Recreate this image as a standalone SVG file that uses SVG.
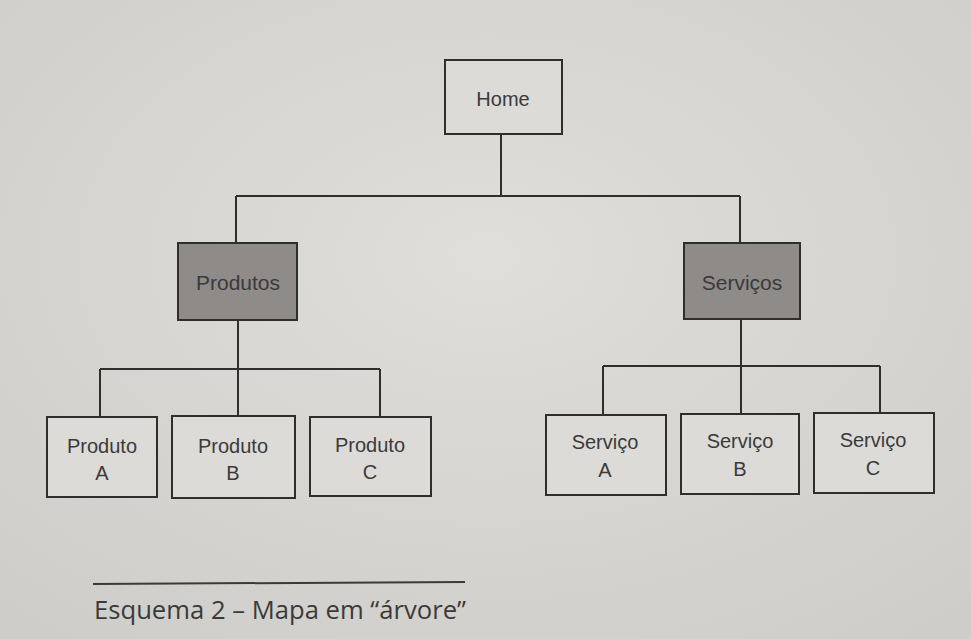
<svg xmlns="http://www.w3.org/2000/svg" width="971" height="639" viewBox="0 0 971 639">
<defs>
<style>
.box{fill:#dddbd8;stroke:#2e2e2e;stroke-width:2}
.dark{fill:#8e8b89;stroke:#2e2e2e;stroke-width:2}
.lbl{font-family:"Liberation Sans",Arial,sans-serif;font-size:20px;fill:#3a3a3a;text-anchor:middle}
.con{fill:none;stroke:#2e2e2e;stroke-width:2}
</style>
<radialGradient id="bg" cx="0.5" cy="0.4" r="0.75">
<stop offset="0" stop-color="#e0dedb"/>
<stop offset="1" stop-color="#cfcdca"/>
</radialGradient>
</defs>
<rect width="971" height="639" fill="url(#bg)"/>
<g id="connectors">
<path class="con" d="M501 134 V196 M236 196 H740 M236 196 V243 M740 196 V243"/>
<path class="con" d="M238 320 V369 M100 369 H380 M100 369 V417 M238 369 V416 M380 369 V417"/>
<path class="con" d="M741 319 V366 M603 366 H880 M603 366 V415 M741 366 V414 M880 366 V413"/>
</g>
<g id="home"><rect class="box" x="445" y="60" width="117" height="74"/><text class="lbl" x="503" y="106">Home</text></g>
<g id="produtos"><rect class="dark" x="178" y="243" width="119" height="77"/><text class="lbl" x="238" y="290" style="font-size:21px">Produtos</text></g>
<g id="servicos"><rect class="dark" x="684" y="243" width="116" height="76"/><text class="lbl" x="742" y="290" style="font-size:21px">Serviços</text></g>
<g id="produtoA"><rect class="box" x="47" y="417" width="110" height="80"/><text class="lbl" x="102" y="453">Produto</text><text class="lbl" x="102" y="480">A</text></g>
<g id="produtoB"><rect class="box" x="172" y="416" width="123" height="82"/><text class="lbl" x="233" y="453">Produto</text><text class="lbl" x="233" y="480">B</text></g>
<g id="produtoC"><rect class="box" x="310" y="417" width="121" height="79"/><text class="lbl" x="370" y="452">Produto</text><text class="lbl" x="370" y="479">C</text></g>
<g id="servicoA"><rect class="box" x="546" y="415" width="120" height="80"/><text class="lbl" x="605" y="449">Serviço</text><text class="lbl" x="605" y="477">A</text></g>
<g id="servicoB"><rect class="box" x="681" y="414" width="118" height="80"/><text class="lbl" x="740" y="448">Serviço</text><text class="lbl" x="740" y="476">B</text></g>
<g id="servicoC"><rect class="box" x="814" y="413" width="120" height="80"/><text class="lbl" x="873" y="447">Serviço</text><text class="lbl" x="873" y="475">C</text></g>
<line x1="93" y1="584" x2="465" y2="582" stroke="#3a3a3a" stroke-width="2"/>
<text x="94" y="619" font-family="'Open Sans','DejaVu Sans',sans-serif" font-size="26" fill="#3a3a3a" textLength="372" lengthAdjust="spacingAndGlyphs">Esquema 2 – Mapa em “árvore”</text>
</svg>
